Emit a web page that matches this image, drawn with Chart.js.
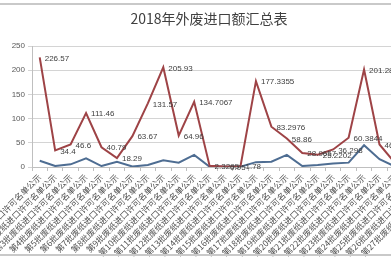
<!DOCTYPE html>
<html>
<head>
<meta charset="utf-8">
<script src="https://cdn.jsdelivr.net/npm/chart.js@4.4.0/dist/chart.umd.min.js"></script>
<style>
  html, body { margin: 0; padding: 0; background: #fff; }
  body { width: 391px; height: 260px; overflow: hidden; position: relative; }
  #wrap { position: absolute; left: 0; top: 0; width: 455px; height: 260px; }
  .edge { position: absolute; left: 0; width: 391px; height: 2px; background: #c9c9c9; }
</style>
</head>
<body>
<div id="wrap"><canvas id="myChart" width="455" height="260"></canvas></div>
<div class="edge" style="top:3px"></div>
<div class="edge" style="top:254px"></div>
<script>
var titleText = '2018年外废进口额汇总表';

var batches = [];
for (var i = 1; i <= 27; i++) {
    batches.push('第' + i + '批废纸进口许可名单公示');
}

// red series (labelled values)
var amounts = [226.57, 34.4, 46.6, 111.46, 40.79, 18.29, 63.67, 131.57, 205.93, 64.96,
               134.7067, 2.3295, 0.95, 1.78, 177.3355, 83.2976, 58.86, 28.9657, 25.2202, 36.298,
               60.3844, 201.28, 46.52, 8.4, 30.6, 52.1, 40.2];
// blue series
var counts = [13, 2, 5.5, 18, 2, 11, 1, 4, 14, 9,
              25, 0.5, 0.3, 0.5, 10, 11, 25, 2, 4, 7,
              9, 45, 16, 1, 5, 8, 6];

var yTicks = [0, 50, 100, 150, 200, 250];

var labelPlugin = {
    id: 'pointLabels',
    afterDatasetsDraw: function(chart) {
        var ctx = chart.ctx;
        var meta = chart.getDatasetMeta(0);
        ctx.save();
        ctx.font = '8px "Liberation Sans", Arial, sans-serif';
        ctx.fillStyle = '#404040';
        ctx.textBaseline = 'middle';
        ctx.textAlign = 'left';
        meta.data.forEach(function(pt, i) {
            ctx.fillText(String(amounts[i]), pt.x + 5, pt.y + 1);
        });
        ctx.restore();
    },
    afterDraw: function(chart) {
        var ctx = chart.ctx;
        ctx.save();
        ctx.font = '14px "Noto Sans CJK SC", sans-serif';
        ctx.fillStyle = '#404040';
        ctx.textAlign = 'center';
        ctx.textBaseline = 'middle';
        ctx.fillText(titleText, 209, 19);
        ctx.restore();
    }
};

var ctx = document.getElementById('myChart').getContext('2d');
var chart = new Chart(ctx, {
    type: 'line',
    data: {
        labels: batches,
        datasets: [{
            label: '金额',
            data: amounts,
            borderColor: '#9e4346',
            borderWidth: 2,
            pointRadius: 0,
            tension: 0,
            fill: false
        }, {
            label: '批次',
            data: counts,
            borderColor: '#4e6d92',
            borderWidth: 2,
            pointRadius: 0,
            tension: 0,
            fill: false
        }]
    },
    options: {
        responsive: false,
        animation: false,
        layout: { padding: { top: 46, right: 6, left: 0, bottom: 0 } },
        plugins: {
            legend: { display: false },
            tooltip: { enabled: false }
        },
        scales: {
            x: {
                offset: true,
                grid: { drawOnChartArea: false, color: '#bfbfbf', tickLength: 4, offset: true },
                border: { color: '#bfbfbf' },
                ticks: {
                    autoSkip: false,
                    maxRotation: 45,
                    minRotation: 45,
                    padding: 1,
                    color: '#505050',
                    font: { size: 8.5, family: '"Noto Sans CJK SC", sans-serif' }
                },
                afterFit: function(scale) {
                    scale.height = 93;
                    scale.paddingLeft = 0;
                    scale.paddingRight = 0;
                }
            },
            y: {
                min: 0,
                max: 250,
                afterBuildTicks: function(scale) {
                    scale.ticks = yTicks.map(function(v) { return { value: v }; });
                },
                grid: { color: '#d4d4d4', tickLength: 4 },
                border: { color: '#bfbfbf' },
                ticks: {
                    padding: 3,
                    color: '#595959',
                    font: { size: 8, family: '"Liberation Sans", Arial, sans-serif' }
                },
                afterFit: function(scale) {
                    scale.width = 32;
                }
            }
        }
    },
    plugins: [labelPlugin]
});
</script>
</body>
</html>
